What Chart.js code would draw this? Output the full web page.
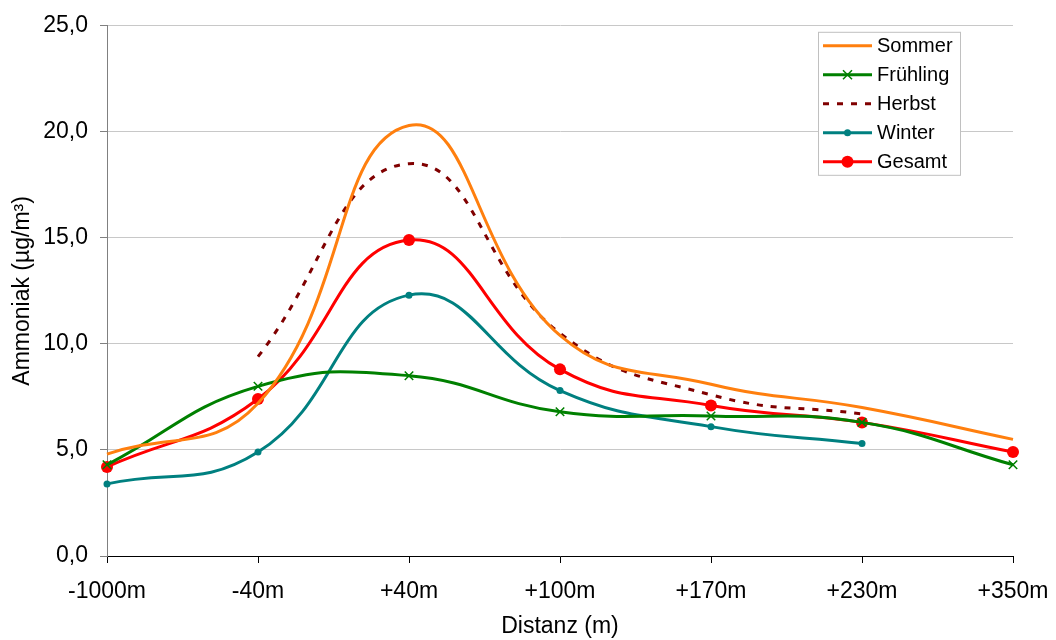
<!doctype html>
<html lang="de">
  <head>
    <meta charset="utf-8">
    <title>Ammoniak nach Distanz</title>
    <style>
      * { margin: 0; padding: 0; }
      body { background: white; }
    </style>
  </head>
  <body>
    <canvas id="myChart" width="1056" height="640"></canvas>
    <script src="https://cdn.jsdelivr.net/npm/chart.js@4/dist/chart.umd.min.js"></script>
    <script>
    // data
    const distances = ['-1000m', '-40m', '+40m', '+100m', '+170m', '+230m', '+350m'];
    const sommer   = [4.8, 7.2, 20.3, 10.4, 8.1, 7.0, 5.5];
    const fruehling = [4.3, 8.0, 8.5, 6.8, 6.6, 6.3, 4.3];
    const herbst   = [null, 9.4, 18.5, 10.5, 7.6, 6.7, null];
    const winter   = [3.4, 4.9, 12.3, 7.8, 6.1, 5.3, null];
    const gesamt   = [4.2, 7.4, 14.9, 8.8, 7.1, 6.3, 4.9];
    const yTicks = [0, 5, 10, 15, 20, 25];

    const font = 'Liberation Sans';

    // legend plugin block (boxed legend inside the plot, Excel style)
    const boxLegend = {
      id: 'boxLegend',
      afterDraw(chart) {
        const { ctx, chartArea: { top, right } } = chart;
        const x0 = right - 195, y0 = top + 6, w = 142, h = 143;
        ctx.save();
        ctx.fillStyle = 'white';
        ctx.fillRect(x0, y0, w, h);
        ctx.strokeStyle = '#c0c0c0';
        ctx.lineWidth = 1;
        ctx.strokeRect(x0 + 0.5, y0 + 0.5, w, h);
        ctx.font = '20px "' + font + '"';
        ctx.textBaseline = 'middle';
        ctx.textAlign = 'left';
        chart.data.datasets.forEach((ds, i) => {
          const cy = y0 + 14 + i * 29;
          const lx1 = x0 + 5, lx2 = x0 + 54, mx = (lx1 + lx2) / 2;
          ctx.beginPath();
          ctx.strokeStyle = ds.borderColor;
          ctx.lineWidth = ds.borderWidth;
          ctx.setLineDash(ds.borderDash || []);
          ctx.moveTo(lx1, cy);
          ctx.lineTo(lx2, cy);
          ctx.stroke();
          ctx.setLineDash([]);
          if (ds.pointStyle === 'crossRot') {
            const r = ds.pointRadius;
            ctx.beginPath();
            ctx.lineWidth = ds.pointBorderWidth;
            ctx.moveTo(mx - r * 0.75, cy - r * 0.75);
            ctx.lineTo(mx + r * 0.75, cy + r * 0.75);
            ctx.moveTo(mx + r * 0.75, cy - r * 0.75);
            ctx.lineTo(mx - r * 0.75, cy + r * 0.75);
            ctx.stroke();
          } else if (ds.pointRadius > 0) {
            ctx.beginPath();
            ctx.fillStyle = ds.borderColor;
            ctx.arc(mx, cy, ds.pointRadius, 0, Math.PI * 2);
            ctx.fill();
          }
          ctx.fillStyle = 'black';
          ctx.fillText(ds.label, x0 + 59, cy + 1);
        });
        ctx.restore();
      }
    };

    const data = {
      labels: distances,
      datasets: [
        {
          label: 'Sommer', data: sommer,
          borderColor: '#ff7f0e', backgroundColor: '#ff7f0e',
          borderWidth: 3, pointRadius: 0, tension: 0.45
        },
        {
          label: 'Frühling', data: fruehling,
          borderColor: '#008000', backgroundColor: '#008000',
          borderWidth: 3, pointStyle: 'crossRot', pointRadius: 6,
          pointBorderWidth: 1.5, pointBorderColor: '#008000', tension: 0.45
        },
        {
          label: 'Herbst', data: herbst,
          borderColor: '#800000', backgroundColor: '#800000',
          borderWidth: 3, borderDash: [6, 8], pointRadius: 0, tension: 0.45
        },
        {
          label: 'Winter', data: winter,
          borderColor: '#008080', backgroundColor: '#008080',
          borderWidth: 3, pointStyle: 'circle', pointRadius: 3.5,
          pointBorderWidth: 0, tension: 0.45
        },
        {
          label: 'Gesamt', data: gesamt,
          borderColor: '#ff0000', backgroundColor: '#ff0000',
          borderWidth: 3, pointStyle: 'circle', pointRadius: 6,
          pointBorderWidth: 0, tension: 0.45
        }
      ]
    };

    const config = {
      type: 'line',
      data,
      options: {
        responsive: false,
        animation: false,
        layout: { padding: { top: 23, right: 43, left: 0, bottom: 0 } },
        scales: {
          x: {
            offset: false,
            grid: { drawOnChartArea: false, drawTicks: true, tickLength: 7, tickColor: '#000', color: '#000' },
            border: { color: '#000', width: 1 },
            ticks: { color: '#000', font: { family: font, size: 23 }, padding: 15, maxRotation: 0, autoSkip: false },
            title: { display: true, text: 'Distanz (m)', color: '#000', font: { family: font, size: 23 }, padding: { top: 0, bottom: 0 } },
            afterFit(axis) {
              axis.height = 84;
              axis.paddingLeft = 0;
              axis.paddingRight = 0;
            }
          },
          y: {
            min: 0, max: 25,
            afterBuildTicks(axis) { axis.ticks = yTicks.map(v => ({ value: v })); },
            grid: { color: '#c8c8c8', lineWidth: 1, tickLength: 7, tickColor: '#808080' },
            border: { color: '#808080', width: 1 },
            ticks: {
              color: '#000', font: { family: font, size: 23 }, padding: 12,
              callback: v => v.toFixed(1).replace('.', ',')
            },
            title: { display: true, text: 'Ammoniak (µg/m³)', color: '#000', font: { family: font, size: 23 }, padding: { top: 9, bottom: 0 } },
            afterFit(axis) { axis.width = 107; }
          }
        },
        plugins: {
          legend: { display: false },
          tooltip: { enabled: false }
        }
      },
      plugins: [boxLegend]
    };

    const myChart = new Chart(document.getElementById('myChart'), config);
    </script>
  </body>
</html>
